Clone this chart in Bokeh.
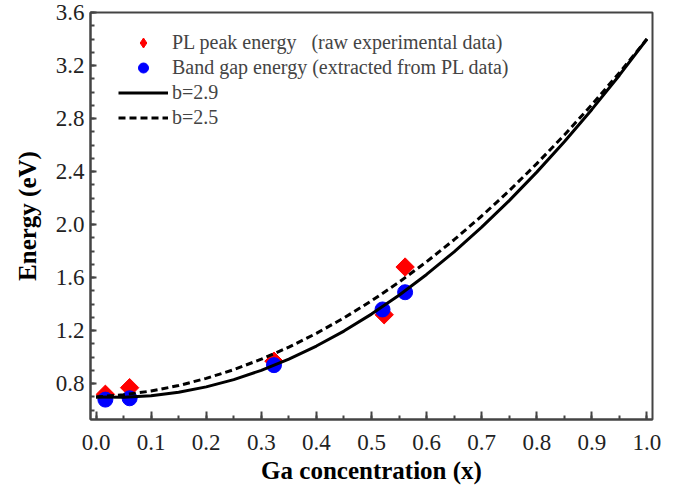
import math
from bokeh.plotting import figure
from bokeh.models import (SingleIntervalTicker, PrintfTickFormatter, Range1d,
                          Legend, LegendItem)
from bokeh.embed import file_html
from bokeh.resources import INLINE

# PL peak energy (raw experimental data)
x_pl = [0.017, 0.061, 0.323, 0.523, 0.561]
e_pl = [0.72, 0.77, 0.97, 1.32, 1.68]
# Band gap energy (extracted from PL data)
x_bg = [0.017, 0.061, 0.323, 0.520, 0.561]
e_bg = [0.68, 0.69, 0.94, 1.36, 1.49]

# fitted curves
x_fit = [0.00, 0.05, 0.10, 0.15, 0.20, 0.25, 0.30, 0.35, 0.40, 0.45, 0.50,
         0.55, 0.60, 0.65, 0.70, 0.75, 0.80, 0.85, 0.90, 0.95, 1.00]
e_b29 = [0.700, 0.697, 0.709, 0.735, 0.776, 0.831, 0.901, 0.985, 1.084, 1.197, 1.325,
         1.467, 1.624, 1.795, 1.981, 2.181, 2.396, 2.625, 2.869, 3.127, 3.400]
e_b25 = [0.700, 0.716, 0.745, 0.786, 0.840, 0.906, 0.985, 1.076, 1.180, 1.296, 1.425,
         1.566, 1.720, 1.886, 2.065, 2.256, 2.460, 2.676, 2.905, 3.146, 3.400]

labels = ["PL peak energy   (raw experimental data)",
          "Band gap energy (extracted from PL data)",
          "b=2.9", "b=2.5"]

FONT = "Liberation Serif"

p = figure(width=668, height=486, output_backend="svg", toolbar_location=None,
           x_range=Range1d(-0.01, 1.01), y_range=Range1d(0.53, 3.6),
           min_border_left=90, min_border_right=16, min_border_top=12,
           min_border_bottom=0, background_fill_color="white",
           border_fill_color="white")

p.xgrid.visible = False
p.ygrid.visible = False
p.outline_line_color = "#444444"
p.outline_line_width = 2

r_pl = p.scatter(x_pl, e_pl, marker="square", angle=math.pi / 4, size=13,
                 fill_color="#ff0000", line_color="#ff0000")
# legend swatch for the diamonds (the legend does not rotate markers)
r_pl_leg = p.scatter([float("nan")], [float("nan")], marker="diamond", size=14,
                     fill_color="#ff0000", line_color="#ff0000")
r_bg = p.scatter(x_bg, e_bg, marker="circle", size=15,
                 fill_color="#0000ff", line_color="#0000ff")
r_29 = p.line(x_fit, e_b29, line_color="black", line_width=3)
r_25 = p.line(x_fit, e_b25, line_color="black", line_width=3, line_dash="7 4")

p.xaxis.ticker = SingleIntervalTicker(interval=0.1, num_minor_ticks=2)
p.yaxis.ticker = SingleIntervalTicker(interval=0.4, num_minor_ticks=4)
p.xaxis.formatter = PrintfTickFormatter(format="%.1f")
p.yaxis.formatter = PrintfTickFormatter(format="%.1f")

p.axis.axis_line_color = "#444444"
p.axis.axis_line_width = 2
p.axis.major_tick_line_color = "#444444"
p.axis.minor_tick_line_color = "#444444"
p.axis.major_tick_line_width = 2
p.axis.minor_tick_line_width = 2
p.axis.major_tick_out = 0
p.axis.minor_tick_out = 0
p.axis.major_label_text_font = FONT
p.axis.major_label_text_font_size = "23px"
p.axis.major_label_text_color = "#222222"
p.axis.axis_label_text_font = FONT
p.axis.axis_label_text_font_size = "25px"
p.axis.axis_label_text_font_style = "bold"
p.axis.axis_label_text_color = "black"

p.xaxis.major_tick_in = 8
p.xaxis.minor_tick_in = 4
p.yaxis.major_tick_in = 6
p.yaxis.minor_tick_in = 4
p.xaxis.major_label_standoff = 15
p.yaxis.major_label_standoff = 6
p.xaxis.axis_label = "Ga concentration (x)"
p.yaxis.axis_label = "Energy (eV)"
p.xaxis.axis_label_standoff = 4
p.yaxis.axis_label_standoff = 12

legend = Legend(items=[LegendItem(label=labels[0], renderers=[r_pl_leg]),
                       LegendItem(label=labels[1], renderers=[r_bg]),
                       LegendItem(label=labels[2], renderers=[r_29]),
                       LegendItem(label=labels[3], renderers=[r_25])],
                location=(28, 289), glyph_width=50, glyph_height=25,
                label_text_font=FONT, label_text_font_size="20px",
                border_line_color=None, background_fill_alpha=0,
                spacing=0, padding=0, margin=0, label_standoff=4)
p.add_layout(legend)

open("out.html", "w").write(file_html(p, INLINE))
